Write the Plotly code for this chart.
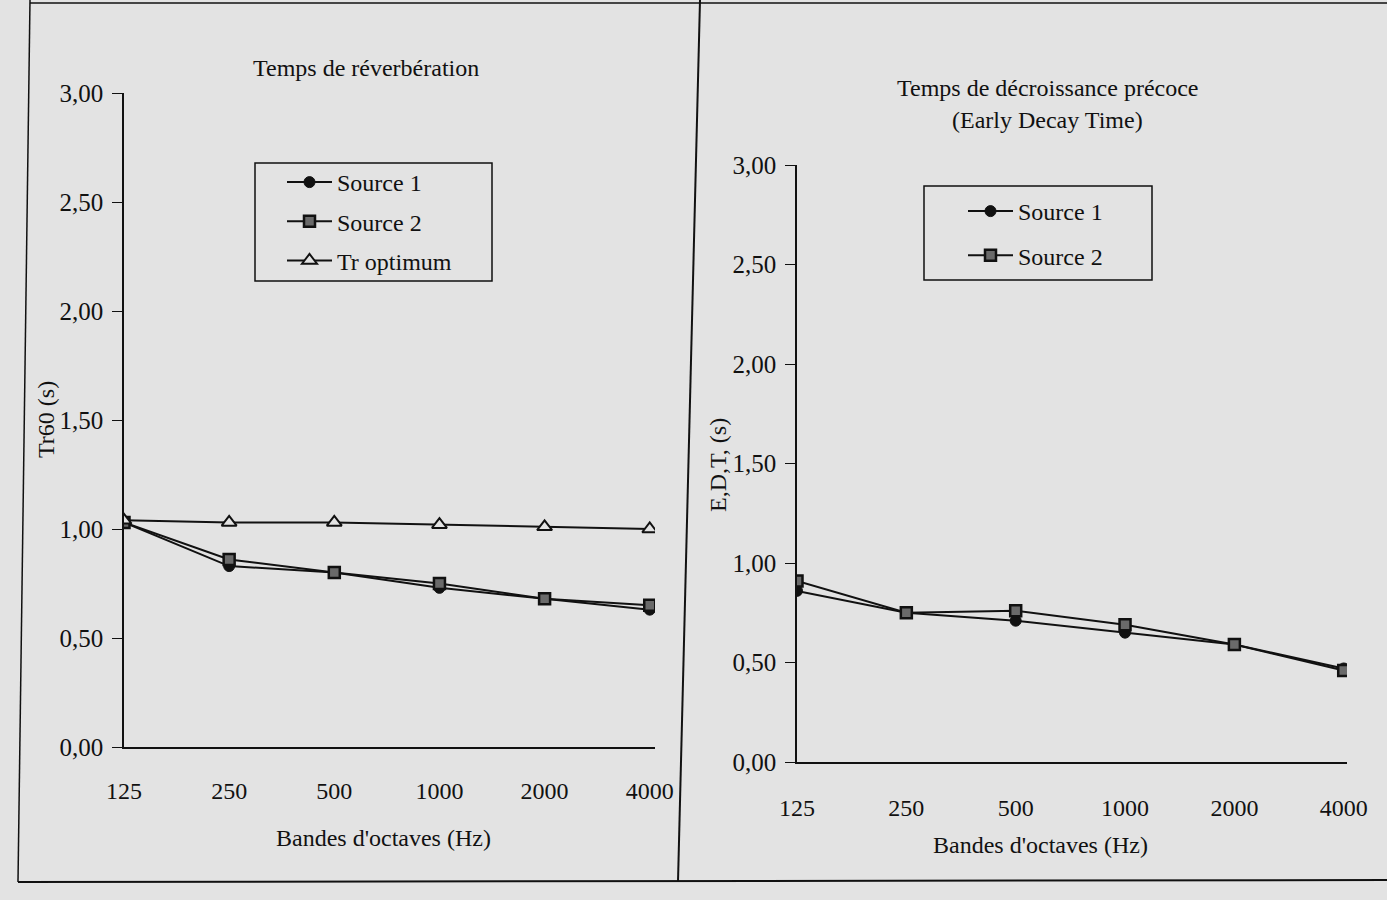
import plotly.graph_objects as go

# ---------------- data ----------------
bands = ["125", "250", "500", "1000", "2000", "4000"]

# Temps de réverbération (Tr60, s)
tr_source1 = [1.03, 0.83, 0.80, 0.73, 0.68, 0.63]
tr_source2 = [1.03, 0.86, 0.80, 0.75, 0.68, 0.65]
tr_optimum = [1.04, 1.03, 1.03, 1.02, 1.01, 1.00]

# Early Decay Time (s)
edt_source1 = [0.86, 0.75, 0.71, 0.65, 0.59, 0.47]
edt_source2 = [0.91, 0.75, 0.76, 0.69, 0.59, 0.46]

y_ticks = [0, 0.5, 1.0, 1.5, 2.0, 2.5, 3.0]

# ---------------- styling ----------------
W, H = 1387, 900
BG = "#e3e3e3"
FONT = "Liberation Serif"
INK = "#111111"
FS = 24


def px(x):
    return x / W


def py(y):
    return 1 - y / H


fig = go.Figure()

line_style = dict(color=INK, width=2)
m_circle = dict(symbol="circle", size=11, color=INK, line=dict(color=INK, width=1))
m_square = dict(symbol="square", size=11, color="#6a6a6a", line=dict(color=INK, width=2.5))
m_tri = dict(symbol="triangle-up", size=13, color=BG, line=dict(color=INK, width=2))

fig.add_trace(go.Scatter(x=bands, y=tr_source1, name="Source 1", mode="lines+markers",
                         line=line_style, marker=m_circle, xaxis="x", yaxis="y",
                         legend="legend", legendgroup="a1"))
fig.add_trace(go.Scatter(x=bands, y=tr_source2, name="Source 2", mode="lines+markers",
                         line=line_style, marker=m_square, xaxis="x", yaxis="y",
                         legend="legend", legendgroup="a2"))
fig.add_trace(go.Scatter(x=bands, y=tr_optimum, name="Tr optimum", mode="lines+markers",
                         line=line_style, marker=m_tri, xaxis="x", yaxis="y",
                         legend="legend", legendgroup="a3"))

fig.add_trace(go.Scatter(x=bands, y=edt_source1, name="Source 1", mode="lines+markers",
                         line=line_style, marker=m_circle, xaxis="x2", yaxis="y2",
                         legend="legend2", legendgroup="b1"))
fig.add_trace(go.Scatter(x=bands, y=edt_source2, name="Source 2", mode="lines+markers",
                         line=line_style, marker=m_square, xaxis="x2", yaxis="y2",
                         legend="legend2", legendgroup="b2"))

xtickfont = dict(family=FONT, size=FS, color=INK)
ytickfont = dict(family=FONT, size=25, color=INK)

xcommon = dict(type="category", showgrid=False, zeroline=False, showline=True,
               linecolor=INK, linewidth=1.5, ticks="", tickfont=xtickfont,
               automargin=False)
ycommon = dict(range=[0, 3], tickvals=y_ticks, tickformat=".2f", showgrid=False,
               zeroline=False, showline=True, linecolor=INK, linewidth=1.5,
               ticks="outside", ticklen=10, tickcolor=INK, tickfont=ytickfont,
               ticklabelstandoff=4, automargin=False)

fig.update_layout(
    width=W, height=H,
    margin=dict(l=0, r=0, t=0, b=0, pad=0, autoexpand=False),
    paper_bgcolor=BG, plot_bgcolor=BG,
    separators=", ",
    font=dict(family=FONT, size=FS, color=INK),
    xaxis=dict(domain=[px(124), px(655)], range=[0, 5.05], anchor="y",
               ticklabelstandoff=21, **xcommon),
    yaxis=dict(domain=[py(747), py(93)], anchor="x", **ycommon),
    xaxis2=dict(domain=[px(797), px(1347)], range=[0, 5.03], anchor="y2",
                ticklabelstandoff=23, **xcommon),
    yaxis2=dict(domain=[py(762), py(165)], anchor="x2", **ycommon),
    legend=dict(x=px(282), y=py(160), xanchor="left", yanchor="top",
                bgcolor="rgba(0,0,0,0)", borderwidth=0, tracegroupgap=5,
                font=dict(family=FONT, size=FS, color=INK), itemwidth=45),
    legend2=dict(x=px(963), y=py(189), xanchor="left", yanchor="top",
                 bgcolor="rgba(0,0,0,0)", borderwidth=0, tracegroupgap=10,
                 font=dict(family=FONT, size=FS, color=INK), itemwidth=45),
    showlegend=True,
)

# legend frames and page frame lines
shapes = [
    dict(type="rect", xref="paper", yref="paper", x0=px(255), x1=px(492), y0=py(281), y1=py(163),
         line=dict(color=INK, width=1.5)),
    dict(type="rect", xref="paper", yref="paper", x0=px(924), x1=px(1152), y0=py(280), y1=py(186),
         line=dict(color=INK, width=1.5)),
    dict(type="line", xref="paper", yref="paper", x0=px(700), x1=px(678), y0=1, y1=py(882),
         line=dict(color=INK, width=2)),
    dict(type="line", xref="paper", yref="paper", x0=px(18), x1=1, y0=py(882), y1=py(880),
         line=dict(color=INK, width=2)),
    dict(type="line", xref="paper", yref="paper", x0=px(30), x1=px(18), y0=1, y1=py(882),
         line=dict(color=INK, width=1.5)),
    dict(type="line", xref="paper", yref="paper", x0=px(30), x1=1, y0=py(3), y1=py(3),
         line=dict(color=INK, width=1.5)),
]
fig.update_layout(shapes=shapes)

tf = dict(family=FONT, size=FS, color=INK)


def ann(text, x, y, angle=0):
    return dict(text=text, x=px(x), y=py(y), xref="paper", yref="paper",
                xanchor="center", yanchor="middle", showarrow=False,
                font=tf, textangle=angle)


annotations = [
    ann("Temps de réverbération", 366, 68),
    ann("Bandes d'octaves (Hz)", 383, 838),
    ann("Tr60 (s)", 46, 420, -90),
    ann("Temps de décroissance précoce", 1048, 88),
    ann("(Early Decay Time)", 1047, 120),
    ann("Bandes d'octaves (Hz)", 1040, 845),
    ann("E,D,T, (s)", 718, 465, -90),
]
fig.update_layout(annotations=annotations)

fig.write_html("out.html", config={"displayModeBar": False},
               post_script="document.body.style.margin='0px';")
